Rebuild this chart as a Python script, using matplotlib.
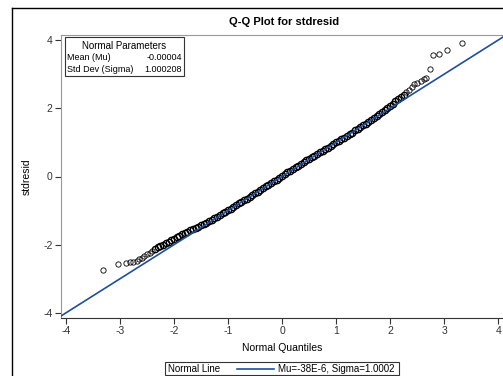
import matplotlib
matplotlib.use("Agg")
import matplotlib.pyplot as plt
from matplotlib.lines import Line2D
from matplotlib.patches import Rectangle

plt.rcParams["font.family"] = ["Liberation Sans", "DejaVu Sans"]
plt.rcParams["axes.unicode_minus"] = False

# normal quantiles (x) and sorted residuals (y)
quantiles = [
    -3.31, -3.04, -2.89, -2.81, -2.75, -2.69, -2.64, -2.59,
    -2.55, -2.50, -2.45, -2.40, -2.35, -2.30, -2.25, -2.20, -2.15, -2.10,
    -2.05, -2.00, -1.95, -1.90, -1.85, -1.80, -1.75, -1.70, -1.65, -1.60,
    -1.55, -1.50, -1.45, -1.40, -1.35, -1.30, -1.25, -1.20, -1.15, -1.10,
    -1.05, -1.00, -0.95, -0.90, -0.85, -0.80, -0.75, -0.70, -0.65, -0.60,
    -0.55, -0.50, -0.45, -0.40, -0.35, -0.30, -0.25, -0.20, -0.15, -0.10,
    -0.05, 0.00, 0.05, 0.10, 0.15, 0.20, 0.25, 0.30, 0.35, 0.40,
    0.45, 0.50, 0.55, 0.60, 0.65, 0.70, 0.75, 0.80, 0.85, 0.90,
    0.95, 1.00, 1.05, 1.10, 1.15, 1.20, 1.25, 1.30, 1.35, 1.40,
    1.45, 1.50, 1.55, 1.60, 1.65, 1.70, 1.75, 1.80, 1.85, 1.90,
    1.95, 2.00, 2.05, 2.10, 2.15, 2.20, 2.25, 2.30, 2.35, 2.40, 2.45,
    2.50, 2.57, 2.62, 2.66, 2.73, 2.80, 2.90, 3.05, 3.33,
]
stdresid = [
    -2.74, -2.57, -2.53, -2.52, -2.50, -2.47, -2.43, -2.38,
    -2.33, -2.28, -2.24, -2.18, -2.13, -2.08, -2.04, -2.00, -1.96, -1.91,
    -1.87, -1.82, -1.78, -1.74, -1.70, -1.66, -1.62, -1.58, -1.55, -1.51,
    -1.47, -1.43, -1.40, -1.36, -1.31, -1.27, -1.23, -1.18, -1.13, -1.08,
    -1.04, -0.99, -0.95, -0.90, -0.84, -0.79, -0.74, -0.70, -0.65, -0.60,
    -0.54, -0.49, -0.45, -0.40, -0.34, -0.29, -0.24, -0.19, -0.14, -0.09,
    -0.03, 0.02, 0.07, 0.12, 0.17, 0.22, 0.27, 0.32, 0.37, 0.42,
    0.47, 0.52, 0.56, 0.61, 0.66, 0.71, 0.76, 0.80, 0.85, 0.90,
    0.95, 1.00, 1.05, 1.09, 1.14, 1.19, 1.24, 1.29, 1.35, 1.40,
    1.45, 1.50, 1.55, 1.61, 1.66, 1.72, 1.77, 1.83, 1.89, 1.95,
    2.01, 2.07, 2.13, 2.20, 2.26, 2.33, 2.40, 2.48, 2.55, 2.63, 2.70,
    2.73, 2.80, 2.86, 2.89, 3.14, 3.55, 3.60, 3.72, 3.91,
]

mu = -0.00004
sigma = 1.000208
ticks = [-4, -3, -2, -1, 0, 1, 2, 3, 4]
yticks = [-4, -2, 0, 2, 4]

W, H = 503, 376
fig = plt.figure(figsize=(W / 100, H / 100), dpi=100)

# outer frame (cut at right and bottom)
fig.add_artist(Line2D([12 / W, 12 / W], [1 - 8 / H, 0], color="black", lw=1.0))
fig.add_artist(Line2D([12 / W, 1], [1 - 8 / H, 1 - 8 / H], color="black", lw=1.0))

ax = fig.add_axes([61 / W, 58 / H, (W - 61) / W, (318 - 35) / H])
ax.set_xlim(-4.09, 4.09)
ax.set_ylim(-4.15, 4.15)

# tails drawn as thin single circles, the crowded middle heavier
lo, hi = 12, len(quantiles) - 13
ax.plot(quantiles[:lo], stdresid[:lo], "o", mfc="none", mec="black", ms=3.8, mew=0.6, zorder=2)
ax.plot(quantiles[hi:], stdresid[hi:], "o", mfc="none", mec="black", ms=3.8, mew=0.6, zorder=2)
ax.plot(quantiles[lo:hi], stdresid[lo:hi], "o", mfc="none", mec="black", ms=4.5, mew=1.0, zorder=2)
lx = [-4.09, 4.09]
ax.plot(lx, [mu + sigma * v for v in lx], color="#1f4f9c", lw=1.2, zorder=3)

ax.set_xticks(ticks)
ax.set_yticks(yticks)
ax.tick_params(labelsize=7.5, length=4, width=0.8, direction="out", pad=2, colors="#333333")
ax.spines["right"].set_visible(False)
ax.spines["left"].set_color("#999999")
ax.spines["top"].set_color("#999999")
ax.spines["bottom"].set_color("#333333")

ax.set_xlabel("Normal Quantiles", fontsize=7.5, labelpad=5)
ax.set_ylabel("stdresid", fontsize=7.5, labelpad=8)
fig.text(284 / W, 1 - 22 / H, "Q-Q Plot for stdresid", ha="center", va="center",
         fontsize=8, fontweight="bold")

# inset parameter table
fig.add_artist(Rectangle((64.5 / W, 1 - 76 / H), (184 - 64.5) / W, (76 - 37) / H,
                         fill=True, fc="white", ec="#333333", lw=0.8, zorder=5))
fig.text(124 / W, 1 - 46 / H, "Normal Parameters", ha="center", va="center", fontsize=7, zorder=6)
fig.text(67 / W, 1 - 57 / H, "Mean (Mu)", ha="left", va="center", fontsize=6.5, zorder=6)
fig.text(182 / W, 1 - 57 / H, "-0.00004", ha="right", va="center", fontsize=6.5, zorder=6)
fig.text(67 / W, 1 - 69 / H, "Std Dev (Sigma)", ha="left", va="center", fontsize=6.5, zorder=6)
fig.text(182 / W, 1 - 69 / H, "1.000208", ha="right", va="center", fontsize=6.5, zorder=6)

# bottom legend
fig.add_artist(Rectangle((165 / W, 1 - 375 / H), (399 - 165) / W, (375 - 362) / H,
                         fill=False, ec="#333333", lw=0.8))
fig.text(168 / W, 1 - 368.5 / H, "Normal Line", ha="left", va="center", fontsize=7)
fig.add_artist(Line2D([237 / W, 274 / W], [1 - 368.5 / H, 1 - 368.5 / H], color="#1f4f9c", lw=1.2))
fig.text(278 / W, 1 - 368.5 / H, "Mu=-38E-6, Sigma=1.0002", ha="left", va="center", fontsize=7)

fig.savefig("out.png", dpi=100)
